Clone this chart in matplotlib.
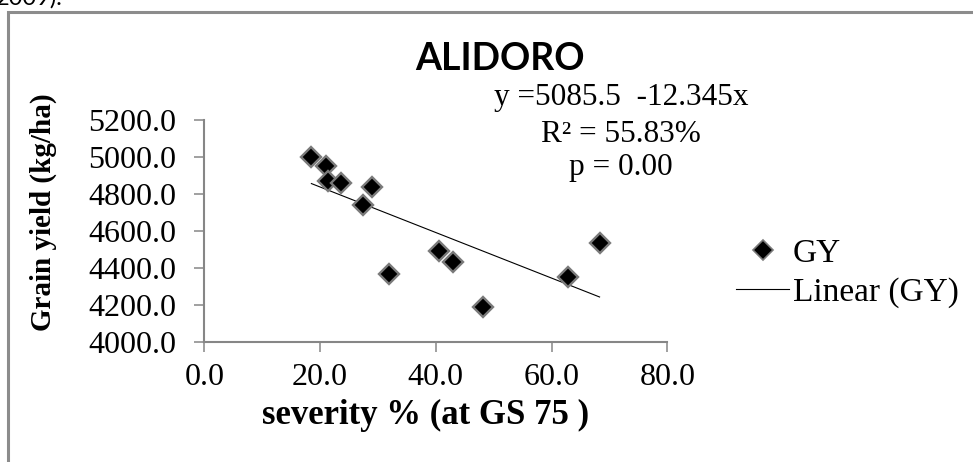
import matplotlib.pyplot as plt
from matplotlib.lines import Line2D
from matplotlib.patches import Rectangle
import numpy as np

# severity % at GS 75 vs grain yield (kg/ha)
severity = [18.5, 21.1, 21.4, 23.6, 27.4, 29.0, 31.9, 40.6, 43.0, 48.2, 62.8, 68.3]
grain_yield = [5000, 4955, 4870, 4860, 4740, 4840, 4368, 4490, 4432, 4188, 4350, 4535]

intercept = 5085.5
slope = -12.345
eq_lines = ['y =5085.5  -12.345x', 'R² = 55.83%', 'p = 0.00']

x_ticks = [0, 20, 40, 60, 80]
y_ticks = [4000, 4200, 4400, 4600, 4800, 5000, 5200]

serif = 'Liberation Serif'
grey = '#868686'

fig = plt.figure(figsize=(9.73, 4.62), dpi=100)
ax = fig.add_axes([0.21, 0.2604, 0.4758, 0.4792])

# points
ax.plot(severity, grain_yield, linestyle='none', marker='D', markersize=10.5,
        markerfacecolor='black', markeredgecolor='#7a7a7a', markeredgewidth=1.7,
        zorder=5)

# linear trend
x_line = np.array([min(severity), max(severity)])
ax.plot(x_line, intercept + slope * x_line, color='black', linewidth=0.8, zorder=4)

ax.set_xlim(0, 80)
ax.set_ylim(4000, 5200)
ax.set_xticks(x_ticks)
ax.set_yticks(y_ticks)
ax.set_xticklabels([f'{v:.1f}' for v in x_ticks])
ax.set_yticklabels([f'{v:.1f}' for v in y_ticks])

for side in ['top', 'right']:
    ax.spines[side].set_visible(False)
for side in ['left', 'bottom']:
    ax.spines[side].set_color(grey)
    ax.spines[side].set_linewidth(1.5)

ax.tick_params(axis='both', direction='out', length=7, width=1.1, color=grey,
               labelsize=23, pad=13)
ax.tick_params(axis='x', pad=8)
for lab in ax.get_xticklabels() + ax.get_yticklabels():
    lab.set_fontfamily(serif)

ax.set_xlabel('severity % (at GS 75 )', fontfamily=serif, fontweight='bold', fontsize=25)
ax.xaxis.set_label_coords(0.477, -0.26)
ax.set_ylabel('Grain yield (kg/ha)', fontfamily=serif, fontweight='bold', fontsize=21)
ax.yaxis.set_label_coords(-0.318, 0.586)

# title
fig.text(500 / 973, 1 - 59 / 462, 'ALIDORO', fontfamily='Lato', fontweight='bold',
         fontsize=27, ha='center', va='center')

# regression text
ys = [98, 135, 168]
for txt, yy in zip(eq_lines, ys):
    fig.text(621 / 973, 1 - yy / 462, txt, fontfamily=serif, fontsize=22.5,
             ha='center', va='center')

# legend
handles = [
    Line2D([], [], linestyle='none', marker='D', markersize=10,
           markerfacecolor='black', markeredgecolor='#7a7a7a', markeredgewidth=1.2),
    Line2D([], [], color='black', linewidth=0.8),
]
fig.legend(handles, ['GY', 'Linear (GY)'], loc='center left',
           bbox_to_anchor=(736 / 973, 1 - 273 / 462), frameon=False,
           prop={'family': serif, 'size': 24}, handlelength=1.6,
           handletextpad=0.1, labelspacing=0.25, borderaxespad=0, borderpad=0)

# outer frame and cut-off text from the page above
fig.patches.append(Rectangle((7.5 / 973, -0.05), 1.2, 1 - 12 / 462 + 0.05,
                             transform=fig.transFigure, fill=False,
                             edgecolor='#8c8c8c', linewidth=2.2))
fig.text(-0.004, 1 - 5 / 462, '2009).', fontfamily='Lato', fontsize=17,
         va='baseline', ha='left')

fig.savefig('out.png', dpi=100)
